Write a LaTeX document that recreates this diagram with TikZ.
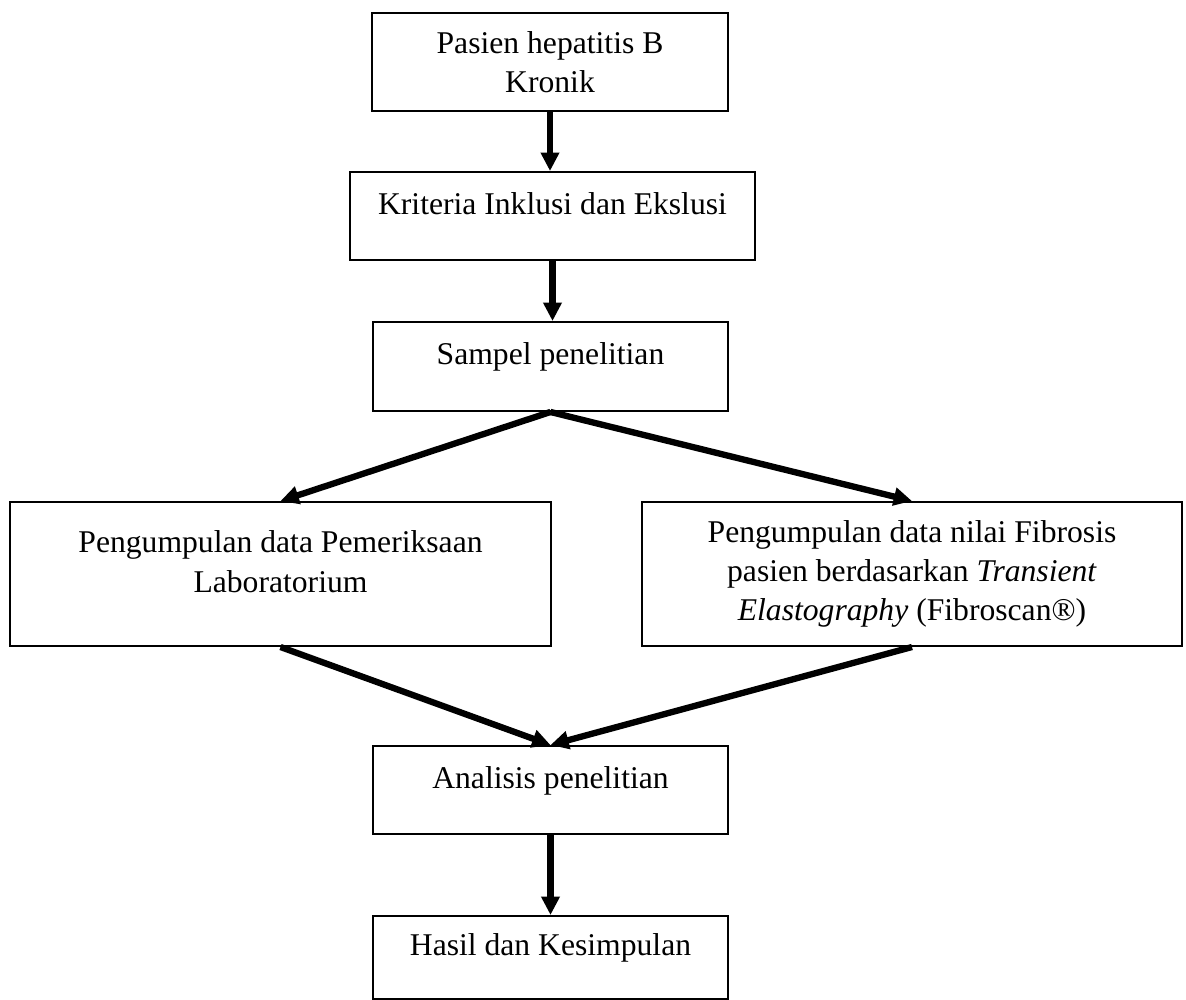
\documentclass[tikz,border=0pt]{standalone}
\usepackage{fontspec}
\setmainfont{Liberation Serif}
\usepackage{tikz}
\usetikzlibrary{arrows.meta, positioning}

\begin{document}
\begin{tikzpicture}[x=0.025cm, y=-0.025cm,
  box/.style={draw, line width=1.4pt, align=center, inner sep=0pt,
    font=\fontsize{22.5}{28}\selectfont},
  flow/.style={line width=4.5pt, -{Triangle[length=13pt, width=12.5pt]}}]

\useasboundingbox (0,0) rectangle (1186,1000);

% Main column
\node[box, minimum width=8.9cm, minimum height=2.45cm] (pasien) at (550,62)
  {Pasien hepatitis B\\Kronik};
\node[box, minimum width=10.125cm, minimum height=2.2cm] (kriteria) at (552.5,216)
  {Kriteria Inklusi dan Ekslusi\\[-10pt]\mbox{}};
\node[box, minimum width=8.875cm, minimum height=2.225cm] (sampel) at (550.5,366.5)
  {Sampel penelitian\\[-10pt]\mbox{}};

% Two branches
\node[box, minimum width=13.525cm, minimum height=3.6cm] (lab) at (280.5,574)
  {Pengumpulan data Pemeriksaan\\Laboratorium\\[-10pt]\mbox{}};
\node[box, minimum width=13.5cm, minimum height=3.6cm] (fibro) at (912,574)
  {Pengumpulan data nilai Fibrosis\\pasien berdasarkan \textit{Transient}\\\textit{Elastography} (Fibroscan®)};

% Analysis and result
\node[box, minimum width=8.875cm, minimum height=2.2cm] (analisis) at (550.5,790)
  {Analisis penelitian\\[-10pt]\mbox{}};
\node[box, minimum width=8.875cm, minimum height=2.075cm] (hasil) at (550.5,957.5)
  {Hasil dan Kesimpulan\\[-10pt]\mbox{}};

% Arrows
\draw[flow] (pasien.south) -- (pasien.south |- kriteria.north);
\draw[flow] (kriteria.south) -- (kriteria.south |- sampel.north);
\draw[flow] (sampel.south) -- (lab.north);
\draw[flow] (sampel.south) -- (fibro.north);
\draw[flow] (lab.south) -- (analisis.north);
\draw[flow] (fibro.south) -- (analisis.north);
\draw[flow] (analisis.south) -- (hasil.north);

\end{tikzpicture}
\end{document}
